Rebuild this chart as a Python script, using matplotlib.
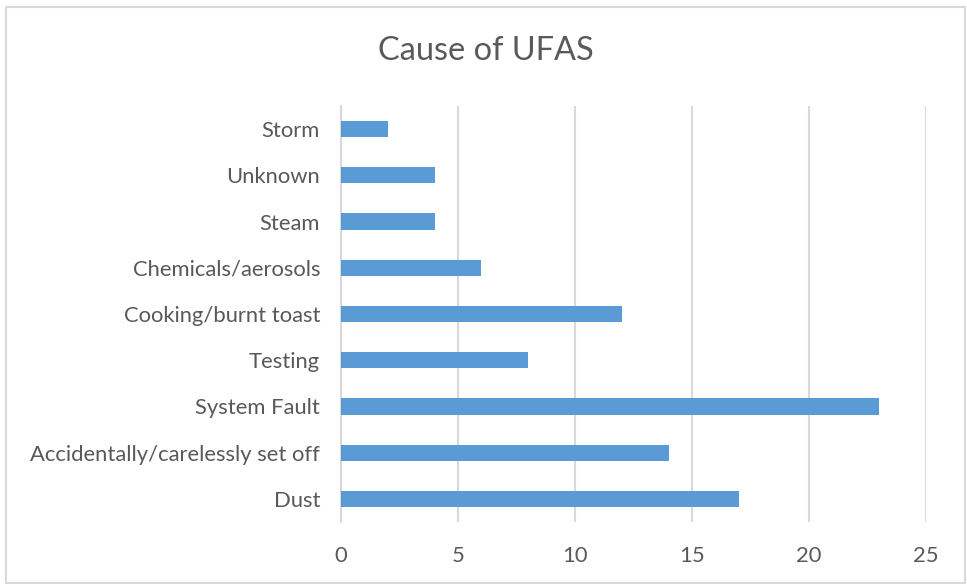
import matplotlib
matplotlib.use("Agg")
import matplotlib.pyplot as plt
from matplotlib.patches import Rectangle

categories = ["Dust", "Accidentally/carelessly set off", "System Fault", "Testing",
              "Cooking/burnt toast", "Chemicals/aerosols", "Steam", "Unknown", "Storm"]
values = [17, 14, 23, 8, 12, 6, 4, 4, 2]
xticks = [0, 5, 10, 15, 20, 25]
title = "Cause of UFAS"

W, H = 967, 584
fig = plt.figure(figsize=(W / 100, H / 100), dpi=100)
plt.rcParams['font.family'] = ['Lato', 'DejaVu Sans']
text_color = "#595959"
grid_color = "#D9D9D9"
bar_color = "#5B9BD5"

left, right, top, bottom = 341, 926, 106, 522
ax = fig.add_axes([left / W, 1 - bottom / H, (right - left) / W, (bottom - top) / H])

y = list(range(len(categories)))
ax.barh(y, values, height=0.35, color=bar_color, zorder=3)
ax.set_xlim(0, 25)
ax.set_ylim(-0.5, len(categories) - 0.5)
ax.set_xticks(xticks)
ax.set_xticklabels([str(t) for t in xticks])
ax.set_yticks(y)
ax.set_yticklabels(categories)
ax.tick_params(axis='both', length=0, colors=text_color, labelsize=15.8)
ax.tick_params(axis='x', pad=17)
ax.tick_params(axis='y', pad=15)
for s in ["top", "right", "bottom"]:
    ax.spines[s].set_visible(False)
ax.spines["left"].set_color(grid_color)
ax.spines["left"].set_linewidth(1.5)
ax.xaxis.grid(True, color=grid_color, linewidth=1.5, zorder=0)
ax.set_axisbelow(True)

fig.text(486 / W, 1 - 51 / H, title, ha="center", va="center", fontsize=23.4, color=text_color)

fig.patches.append(Rectangle((6 / W, 1 - 583 / H), (965 - 6) / W, (583 - 7) / H,
                             transform=fig.transFigure, fill=False, edgecolor=grid_color, linewidth=1.5))

fig.savefig("out.png", dpi=100)
